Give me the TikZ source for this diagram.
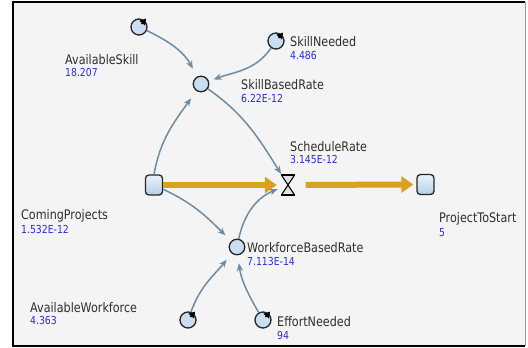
\documentclass[tikz,border=0pt]{standalone}
\usepackage{fontspec}
\setmainfont{DejaVu Sans}
\usetikzlibrary{arrows.meta}
\definecolor{bgc}{HTML}{F4F4F4}
\definecolor{linkc}{HTML}{6D8CA3}
\definecolor{flowc}{HTML}{D9A21E}
\definecolor{circf}{HTML}{C9DEF0}
\definecolor{lblc}{HTML}{2E2E2E}
\definecolor{valc}{HTML}{2B2BD6}
\definecolor{stocktop}{HTML}{EAF2FA}
\definecolor{stockbot}{HTML}{B4CFE8}
\definecolor{glassf}{HTML}{DCE3EA}
\newcommand{\lbltext}[1]{\scalebox{0.93}[1.1]{#1}}
\tikzset{
  cst/.style={circle, draw=black!85, line width=1.3pt, fill=circf, minimum size=16pt, inner sep=0pt},
  auxv/.style={circle, draw=black!85, line width=1.3pt, fill=circf, minimum size=15.5pt, inner sep=0pt},
  stock/.style={rectangle, rounded corners=3.5pt, draw=black!85, line width=1.3pt, top color=stocktop, bottom color=stockbot, minimum width=17pt, minimum height=20pt, inner sep=0pt},
  link/.style={draw=linkc, line width=1.5pt, -{Stealth[length=8pt,width=6.5pt]}},
  flow/.style={draw=flowc, line width=6pt, -{Triangle[length=12pt,width=16pt]}},
  pin/.style={draw=black, line width=1.6pt, -{Triangle[length=6pt,width=7pt]}, shorten <=4pt},
  lbl/.style={anchor=base west, inner sep=0pt, text=lblc, font=\fontsize{12}{13}\selectfont},
  val/.style={anchor=base west, inner sep=0pt, text=valc, font=\fontsize{10}{11}\selectfont},
}
\begin{document}
\begin{tikzpicture}[x=1pt,y=1pt]
\useasboundingbox (0,0) rectangle (528,-348);
\fill[white] (0,0) rectangle (528,-348);
\fill[bgc] (13,-2) rectangle (525,-346);
\draw[black, line width=2pt] (525,-2) -- (13,-2) -- (13,-346) -- (525,-346);
\draw[black!40, line width=0.8pt] (525,-2) -- (525,-346);

% stocks and valve
\node[stock] (CP) at (154,-185) {};
\node[stock] (PS) at (425.5,-184.5) {};
\node[inner sep=0pt, minimum width=13pt, minimum height=20pt] (V) at (288,-185) {};
\fill[glassf] (V.north west) -- (V.north east) -- (V.center) -- cycle;
\fill[glassf] (V.south west) -- (V.south east) -- (V.center) -- cycle;
\draw[black, line width=1.1pt] (V.north west) -- (V.south east) (V.north east) -- (V.south west);
\draw[black, line width=1.8pt] (V.north west) -- (V.north east) (V.south west) -- (V.south east);

% flows
\draw[flow, shorten >=4.5pt] (CP.east) -- (V.west);
\draw[flow, shorten <=11pt, shorten >=3pt] (V.east) -- (PS.west);

% auxiliaries and constants
\node[cst] (AS) at (139,-27) {};
\node[cst] (SN) at (276,-41) {};
\node[auxv] (SBR) at (201,-84) {};
\node[auxv] (WBR) at (237,-247) {};
\node[cst] (AW) at (188,-320) {};
\node[cst] (EN) at (263,-320) {};
\foreach \n in {AS,SN,AW,EN} \draw[pin] (\n.center) -- ++(50:11pt);

% links
\draw[link, shorten >=9pt] (AS) to[out=-25, in=118] (SBR);
\draw[link, shorten >=5pt] (SN) to[out=235, in=20] (SBR);
\draw[link, shorten >=9pt] (CP.north) to[out=80, in=235] (SBR);
\draw[link, shorten >=1pt] (SBR) to[out=-35, in=122] (V);
\draw[link, shorten >=8pt] (CP) to[out=-25, in=135] (WBR);
\draw[link, shorten >=4pt] (WBR) to[out=78, in=202] (V);
\draw[link, shorten >=8pt] (AW) to[out=70, in=231] (WBR);
\draw[link, shorten >=8pt] (EN) to[out=120, in=277] (WBR);

% labels
\node[lbl] (ASl) at (65,-64) {\lbltext{AvailableSkill}};
\node[val] (ASv) at (65,-76) {\lbltext{18.207}};
\node[lbl] (SNl) at (290,-46) {\lbltext{SkillNeeded}};
\node[val] (SNv) at (290,-59) {\lbltext{4.486}};
\node[lbl] (SBRl) at (241,-89) {\lbltext{SkillBasedRate}};
\node[val] (SBRv) at (241,-102) {\lbltext{6.22E-12}};
\node[lbl] (SRl) at (290,-151) {\lbltext{ScheduleRate}};
\node[val] (SRv) at (290,-163) {\lbltext{3.145E-12}};
\node[lbl] (CPl) at (21,-219) {\lbltext{ComingProjects}};
\node[val] (CPv) at (21,-233) {\lbltext{1.532E-12}};
\node[lbl] (PSl) at (439,-222) {\lbltext{ProjectToStart}};
\node[val] (PSv) at (439,-236) {\lbltext{5}};
\node[lbl] (WBRl) at (247,-252) {\lbltext{WorkforceBasedRate}};
\node[val] (WBRv) at (247,-265) {\lbltext{7.113E-14}};
\node[lbl] (AWl) at (30,-312) {\lbltext{AvailableWorkforce}};
\node[val] (AWv) at (30,-324) {\lbltext{4.363}};
\node[lbl] (ENl) at (277,-326) {\lbltext{EffortNeeded}};
\node[val] (ENv) at (277,-339) {\lbltext{94}};
\end{tikzpicture}
\end{document}
